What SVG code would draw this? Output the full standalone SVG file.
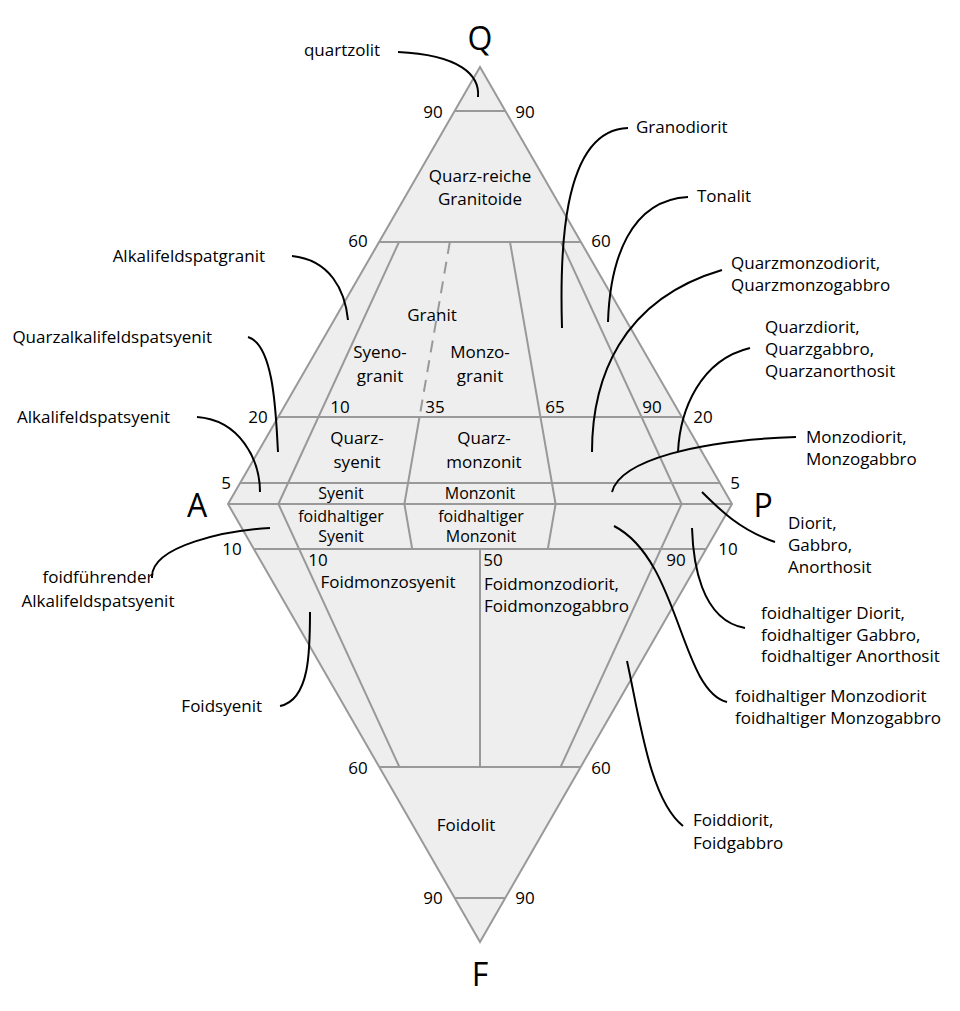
<svg xmlns="http://www.w3.org/2000/svg" width="960" height="1011" viewBox="0 0 960 1011">
<style>
.b{fill:none;stroke:#999;stroke-width:2}
.l{fill:none;stroke:#000;stroke-width:2}
text{font-family:"Open Sans","DejaVu Sans",sans-serif;font-size:17px;fill:#000}
.c{text-anchor:middle}
.e{text-anchor:end}
.s{font-size:16px}
.big{font-size:32px}
</style>
<rect width="960" height="1011" fill="#fff"/>
<g id="diagram">
<polygon points="480,67 732,504 480,942 228,504" fill="#eee" stroke="#999" stroke-width="2"/>
<path class="b" d="M455,111H505M379,242H581M278,417H682M240,483H720M228,504H732M254,549H706M379,767H581M455,898H505"/>
<path class="b" d="M399,242L278.4,504M510,242L555.6,504M561,242L681.6,504M419.5,417L404.4,504"/>
<path class="b" d="M449.8,242L419.5,417" stroke-dasharray="12,8"/>
<path class="b" d="M278.4,504L399.4,767M681.6,504L560.6,767M404.4,504L412.2,549M555.6,504L547.8,549M480,549V767"/>
</g>
<g id="connectors">
<path class="l" d="M398,52C460,55 480,75 478,97"/>
<path class="l" d="M628,128C560,130 560,260 562,328"/>
<path class="l" d="M688,197C630,200 610,260 608,322"/>
<path class="l" d="M722,270C620,300 592,380 592,452"/>
<path class="l" d="M750,348C700,360 680,410 678,452"/>
<path class="l" d="M796,437C700,440 620,460 612,492"/>
<path class="l" d="M775,542C740,530 720,510 702,492"/>
<path class="l" d="M745,628C700,620 693,560 692,528"/>
<path class="l" d="M727,702C680,690 680,560 614,526"/>
<path class="l" d="M683,826C650,800 640,720 627,661"/>
<path class="l" d="M292,256C330,260 345,290 348,320"/>
<path class="l" d="M248,337C275,345 276,420 278,452"/>
<path class="l" d="M197,417C240,420 260,460 260,492"/>
<path class="l" d="M152,578C150,545 230,530 270,528"/>
<path class="l" d="M280,706C310,700 310,650 310,612"/>
</g>
<g id="labels">
<text class="c big" x="480" y="50">Q</text>
<text class="c big" x="197" y="517">A</text>
<text class="c big" x="763" y="517">P</text>
<text class="c big" x="480" y="986">F</text>
<text class="c" x="480" y="182">Quarz-reiche</text><text class="c" x="480" y="205">Granitoide</text>
<text class="c" x="432" y="321">Granit</text>
<text class="c" x="380" y="358">Syeno-</text><text class="c" x="380" y="382">granit</text>
<text class="c" x="480" y="358">Monzo-</text><text class="c" x="480" y="382">granit</text>
<text class="c" x="357" y="444">Quarz-</text><text class="c" x="357" y="468">syenit</text>
<text class="c" x="484" y="444">Quarz-</text><text class="c" x="484" y="468">monzonit</text>
<text class="c s" x="341" y="499">Syenit</text><text class="c s" x="480" y="499">Monzonit</text>
<text class="c s" x="341" y="522">foidhaltiger</text><text class="c s" x="341" y="542">Syenit</text>
<text class="c s" x="481" y="522">foidhaltiger</text><text class="c s" x="481" y="542">Monzonit</text>
<text class="c" x="388" y="588">Foidmonzosyenit</text>
<text x="484" y="590">Foidmonzodiorit,</text><text x="484" y="612">Foidmonzogabbro</text>
<text class="c" x="466" y="831">Foidolit</text>
<text class="c" x="433" y="118">90</text><text class="c" x="525" y="118">90</text>
<text class="c" x="358" y="247">60</text><text class="c" x="601" y="247">60</text>
<text class="c" x="258" y="423">20</text><text class="c" x="703" y="423">20</text>
<text class="c" x="340" y="413">10</text><text class="c" x="435" y="413">35</text>
<text class="c" x="555" y="413">65</text><text class="c" x="652" y="413">90</text>
<text class="c" x="226" y="489">5</text><text class="c" x="735" y="489">5</text>
<text class="c" x="232" y="555">10</text><text class="c" x="728" y="555">10</text>
<text class="c" x="318" y="566">10</text><text class="c" x="493" y="566">50</text><text class="c" x="676" y="566">90</text>
<text class="c" x="358" y="774">60</text><text class="c" x="601" y="774">60</text>
<text class="c" x="433" y="904">90</text><text class="c" x="525" y="904">90</text>
<text class="c" x="342" y="56">quartzolit</text>
<text x="636" y="133">Granodiorit</text>
<text x="697" y="202">Tonalit</text>
<text x="731" y="269">Quarzmonzodiorit,</text><text x="731" y="291">Quarzmonzogabbro</text>
<text x="765" y="333">Quarzdiorit,</text><text x="765" y="355">Quarzgabbro,</text><text x="765" y="377">Quarzanorthosit</text>
<text x="806" y="443">Monzodiorit,</text><text x="806" y="465">Monzogabbro</text>
<text x="788" y="529">Diorit,</text><text x="788" y="551">Gabbro,</text><text x="788" y="573">Anorthosit</text>
<text x="761" y="619">foidhaltiger Diorit,</text><text x="761" y="641">foidhaltiger Gabbro,</text><text x="761" y="662">foidhaltiger Anorthosit</text>
<text x="735" y="702">foidhaltiger Monzodiorit</text><text x="735" y="724">foidhaltiger Monzogabbro</text>
<text x="693" y="826">Foiddiorit,</text><text x="693" y="849">Foidgabbro</text>
<text class="e" x="265" y="262">Alkalifeldspatgranit</text>
<text class="e" x="212" y="343">Quarzalkalifeldspatsyenit</text>
<text class="e" x="170" y="423">Alkalifeldspatsyenit</text>
<text class="c" x="98" y="583">foidführender</text><text class="c" x="98" y="607">Alkalifeldspatsyenit</text>
<text class="e" x="262" y="712">Foidsyenit</text>
</g>
</svg>
